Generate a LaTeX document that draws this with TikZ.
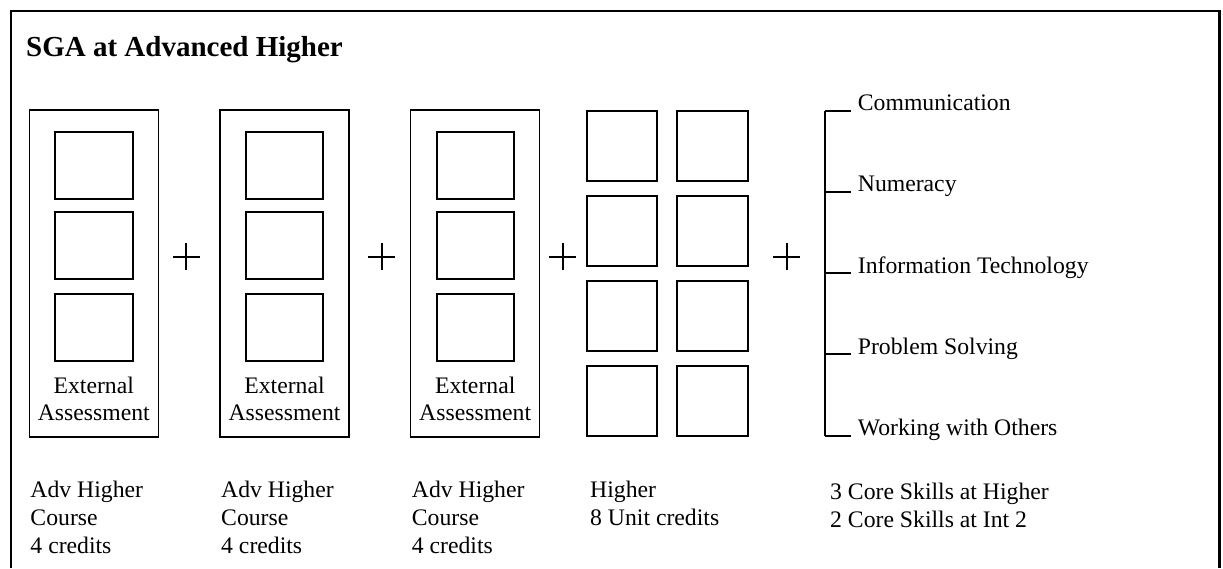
\documentclass[tikz,border=0pt]{standalone}
\usepackage{fontspec}
\setmainfont{Liberation Serif}
\begin{document}
\begin{tikzpicture}[x=1pt,y=-1pt,
  frame/.style={line width=2.4pt},
  course/.style={draw,line width=1.5pt},
  unitbox/.style={draw,line width=2pt},
  plus/.style={line width=1.8pt},
  bracket/.style={line width=2pt},
  lbl/.style={font=\fontsize{23.7}{28}\selectfont,inner sep=0pt},
  boxlbl/.style={font=\fontsize{23.7}{26.7}\selectfont,inner sep=0pt},
  title/.style={font=\fontsize{29}{34}\selectfont\bfseries,inner sep=0pt}]
\useasboundingbox (0,0) rectangle (1223,568);

% open frame
\draw[frame] (11,568) -- (11,11) -- (1219.5,11) -- (1219.5,568);

\node[title,anchor=base west] (title) at (26,56.5) {SGA at Advanced Higher};

% three Advanced Higher courses (multi-line nodes sit on their last baseline)
\foreach \i/\x in {1/29.3,2/220,3/410.7}{
  \draw[course] (\x,110) rectangle ++(129,327);
  \foreach \r/\y in {1/131.7,2/211.7,3/294}{
    \draw[unitbox] (\x+25.9,\y) rectangle ++(77.5,67.3);
  }
  \node[boxlbl,anchor=base,align=center] (ea\i) at (\x+64.5,420) {External\\Assessment};
  \node[lbl,anchor=base west,align=left] (ah\i) at (\x+1,553.3) {Adv Higher\\Course\\4 credits};
}

% eight Higher units
\foreach \c/\x in {1/586.7,2/677.3}{
  \foreach \r/\y in {1/110.7,2/196,3/281,4/366.3}{
    \draw[unitbox] (\x,\y) rectangle ++(70.5,70);
  }
}
\node[lbl,anchor=base west,align=left] (hi) at (590,525.3) {Higher\\8 Unit credits};

% plus signs
\foreach \x in {186.3,381.7,562.7,786.7}{
  \draw[plus] (\x-13.5,256.7) -- (\x+13.5,256.7) (\x,243.2) -- (\x,270.2);
}

% core skills bracket
\draw[bracket] (825.3,110.7) -- (825.3,435.7);
\foreach \k/\y/\t in {1/110.7/Communication,2/191.9/Numeracy,3/273.2/Information Technology,4/354.4/Problem Solving,5/435.7/Working with Others}{
  \node[lbl,anchor=base west] (cs\k) at (857.7,\y) {\t};
  \draw[bracket] (825.3,\y) -- (851,\y);
}
\node[lbl,anchor=base west,align=left] (core) at (830,527.3) {3 Core Skills at Higher\\2 Core Skills at Int 2};
\end{tikzpicture}
\end{document}
